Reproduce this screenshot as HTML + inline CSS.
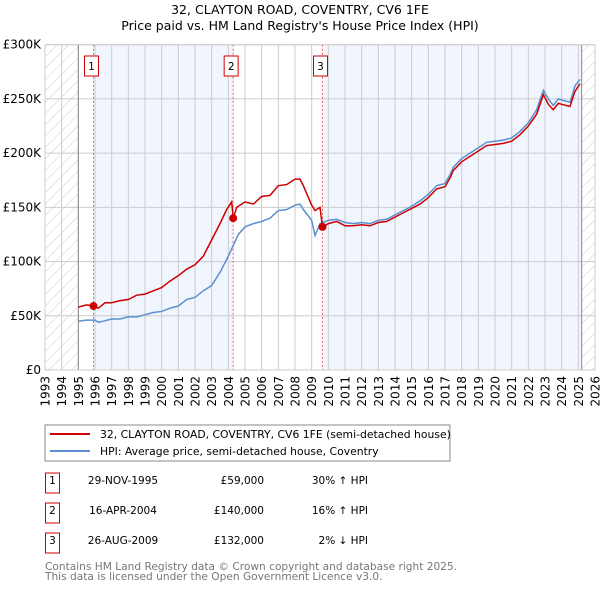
<!DOCTYPE html>
<html><head><meta charset="utf-8"><style>
body{margin:0;background:#fff;font-family:"DejaVu Sans","Liberation Sans",sans-serif;}
svg text{font-family:"DejaVu Sans","Liberation Sans",sans-serif;}
</style></head><body>
<svg id="chart" width="600" height="590">
<defs><pattern id="hatch" width="8" height="8" patternUnits="userSpaceOnUse" patternTransform="rotate(45)"><line x1="0" y1="0" x2="0" y2="8" stroke="#ccc" stroke-width="1"/></pattern></defs>
<text x="300" y="14" text-anchor="middle" font-size="12.5">32, CLAYTON ROAD, COVENTRY, CV6 1FE</text>
<text x="300" y="30" text-anchor="middle" font-size="12.5">Price paid vs. HM Land Registry's House Price Index (HPI)</text>
<g id="plot"></g>
<g>
<rect x="45" y="425" width="405" height="36" fill="#fff" stroke="#888"/>
<line x1="50" y1="434" x2="90" y2="434" stroke="#cc0000" stroke-width="2"/>
<text x="100" y="438" font-size="10.8">32, CLAYTON ROAD, COVENTRY, CV6 1FE (semi-detached house)</text>
<line x1="50" y1="451" x2="90" y2="451" stroke="#5b8fd0" stroke-width="2"/>
<text x="100" y="455" font-size="10.8">HPI: Average price, semi-detached house, Coventry</text>
</g>
<g id="table" font-size="10.5"></g>
<text x="45" y="570" font-size="10.6" fill="#777">Contains HM Land Registry data © Crown copyright and database right 2025.</text>
<text x="45" y="580" font-size="10.6" fill="#777">This data is licensed under the Open Government Licence v3.0.</text>
</svg>
<script>
const hpiYears=[1995,1995.5,1996,1996.2,1996.5,1997,1997.5,1998,1998.5,1999,1999.5,2000,2000.5,2001,2001.5,2002,2002.5,2003,2003.5,2004,2004.3,2004.6,2005,2005.5,2006,2006.5,2007,2007.5,2008,2008.3,2008.5,2009,2009.2,2009.5,2010,2010.5,2011,2011.5,2012,2012.5,2013,2013.5,2014,2014.5,2015,2015.5,2016,2016.5,2017,2017.3,2017.5,2018,2018.5,2019,2019.5,2020,2020.5,2021,2021.5,2022,2022.5,2022.9,2023.2,2023.5,2023.8,2024,2024.5,2024.8,2025.1];
const hpiValues=[45,46,46,44,45,47,47,49,49,51,53,54,57,59,65,67,73,78,90,105,115,125,132,135,137,140,147,148,152,153,148,138,124,135,138,139,136,135,136,135,138,139,143,147,151,156,162,170,172,180,187,195,200,205,210,211,212,214,220,228,240,258,250,244,250,249,247,262,268];
const priceYears=[1995,1995.5,1995.9,1996.2,1996.6,1997,1997.5,1998,1998.5,1999,1999.5,2000,2000.5,2001,2001.5,2002,2002.5,2003,2003.5,2003.9,2004.2,2004.3,2004.5,2005,2005.5,2006,2006.5,2007,2007.5,2008,2008.3,2008.5,2009,2009.2,2009.5,2009.65,2010,2010.5,2011,2011.5,2012,2012.5,2013,2013.5,2014,2014.5,2015,2015.5,2016,2016.5,2017,2017.3,2017.5,2018,2018.5,2019,2019.5,2020,2020.5,2021,2021.5,2022,2022.5,2022.9,2023.2,2023.5,2023.8,2024,2024.5,2024.8,2025.1];
const priceValues=[58,60,59,57,62,62,64,65,69,70,73,76,82,87,93,97,105,120,135,148,155,140,150,155,153,160,161,170,171,176,176,170,152,147,150,132,135,137,133,133,134,133,136,137,141,145,149,153,159,167,169,177,184,192,197,202,207,208,209,211,217,225,236,254,245,240,246,245,243,257,264];
const saleYears=[1995.91,2004.29,2009.65];
const saleValues=[59,140,132];
const saleLabels=["1","2","3"];
const saleDates=["29-NOV-1995","16-APR-2004","26-AUG-2009"];
const salePrices=["£59,000","£140,000","£132,000"];
const saleHpi=["30% ↑ HPI","16% ↑ HPI","2% ↓ HPI"];
const yTicks=[0,50,100,150,200,250,300];
const yTickLabels=["£0","£50K","£100K","£150K","£200K","£250K","£300K"];
const xTicks=[];for(let y=1993;y<=2026;y++)xTicks.push(y);

const L=45,R=595,T=44.7,B=370;
const X=y=>L+(y-1993)*(R-L)/33;
const Y=v=>B-v*(B-T)/300;
const NS="http://www.w3.org/2000/svg";
const g=document.getElementById('plot');
function mk(tag,attrs,parent){const e=document.createElementNS(NS,tag);for(const k in attrs)e.setAttribute(k,attrs[k]);(parent||g).appendChild(e);return e;}
let e;
e=mk('rect',{x:X(1993),y:T,width:X(1995)-X(1993),height:B-T,fill:'url(#hatch)'});


e=mk('rect',{x:X(2025.2),y:T,width:X(2026)-X(2025.2),height:B-T,fill:'url(#hatch)'});


e=mk('rect',{x:X(saleYears[0]),y:T,width:X(saleYears[1])-X(saleYears[0]),height:B-T,fill:'#f1f5fd'});


e=mk('rect',{x:X(saleYears[2]),y:T,width:X(2025.2)-X(saleYears[2]),height:B-T,fill:'#f1f5fd'});


xTicks.forEach(t=>{
 e=mk('line',{x1:X(t),x2:X(t),y1:T,y2:B,stroke:'#ccc','stroke-width':1});
 
 
 e=mk('text',{x:0,y:0,transform:`translate(${X(t)+4.5},${B+6}) rotate(-90)`,'text-anchor':'end','font-size':12});
 e.textContent=t;
 
 
});
yTicks.forEach((t,i)=>{
 e=mk('line',{x1:L,x2:R,y1:Y(t),y2:Y(t),stroke:'#ccc','stroke-width':1});
 
 
 e=mk('text',{x:L-4,y:Y(t)+4,'text-anchor':'end','font-size':12});
 e.textContent=yTickLabels[i];
 
 
});
e=mk('line',{x1:X(1995),x2:X(1995),y1:T,y2:B,stroke:'#888'});


e=mk('line',{x1:X(2025.2),x2:X(2025.2),y1:T,y2:B,stroke:'#888'});


saleYears.forEach((s,i)=>{
 e=mk('line',{x1:X(s),x2:X(s),y1:T,y2:B,stroke:'#f06060','stroke-dasharray':'2,2'});
 
 
 e=mk('rect',{x:X(s)-9,y:56,width:14,height:20,fill:'#fff',stroke:'#cc0000'});
 
 
 e=mk('text',{x:X(s)-2,y:70,'text-anchor':'middle','font-size':10.5});
 e.textContent=saleLabels[i];
 
 
});
e=mk('polyline',{points:hpiYears.map((y,i)=>X(y)+','+Y(hpiValues[i])).join(' '),fill:'none',stroke:'#5b8fd0','stroke-width':1.5});


e=mk('polyline',{points:priceYears.map((y,i)=>X(y)+','+Y(priceValues[i])).join(' '),fill:'none',stroke:'#cc0000','stroke-width':1.5});


saleYears.forEach((s,i)=>{
 e=mk('circle',{cx:X(s),cy:Y(saleValues[i]),r:4,fill:'#cc0000'});
 
 
});
e=mk('rect',{x:L,y:T,width:R-L,height:B-T,fill:'none',stroke:'#ccc'});


const tb=document.getElementById('table');
saleLabels.forEach((l,i)=>{
 const cy=483+i*30;
 e=mk('rect',{x:45.5,y:cy-10,width:14,height:20,fill:'#fff',stroke:'#cc0000'},tb);
 
 
 e=mk('text',{x:52.5,y:cy+1,'text-anchor':'middle'},tb);e.textContent=l;
 
 
 e=mk('text',{x:123,y:cy+1,'text-anchor':'middle'},tb);e.textContent=saleDates[i];
 
 
 e=mk('text',{x:264,y:cy+1,'text-anchor':'end'},tb);e.textContent=salePrices[i];
 
 
 e=mk('text',{x:368,y:cy+1,'text-anchor':'end'},tb);e.textContent=saleHpi[i];
 
 
});
</script>
</body></html>
